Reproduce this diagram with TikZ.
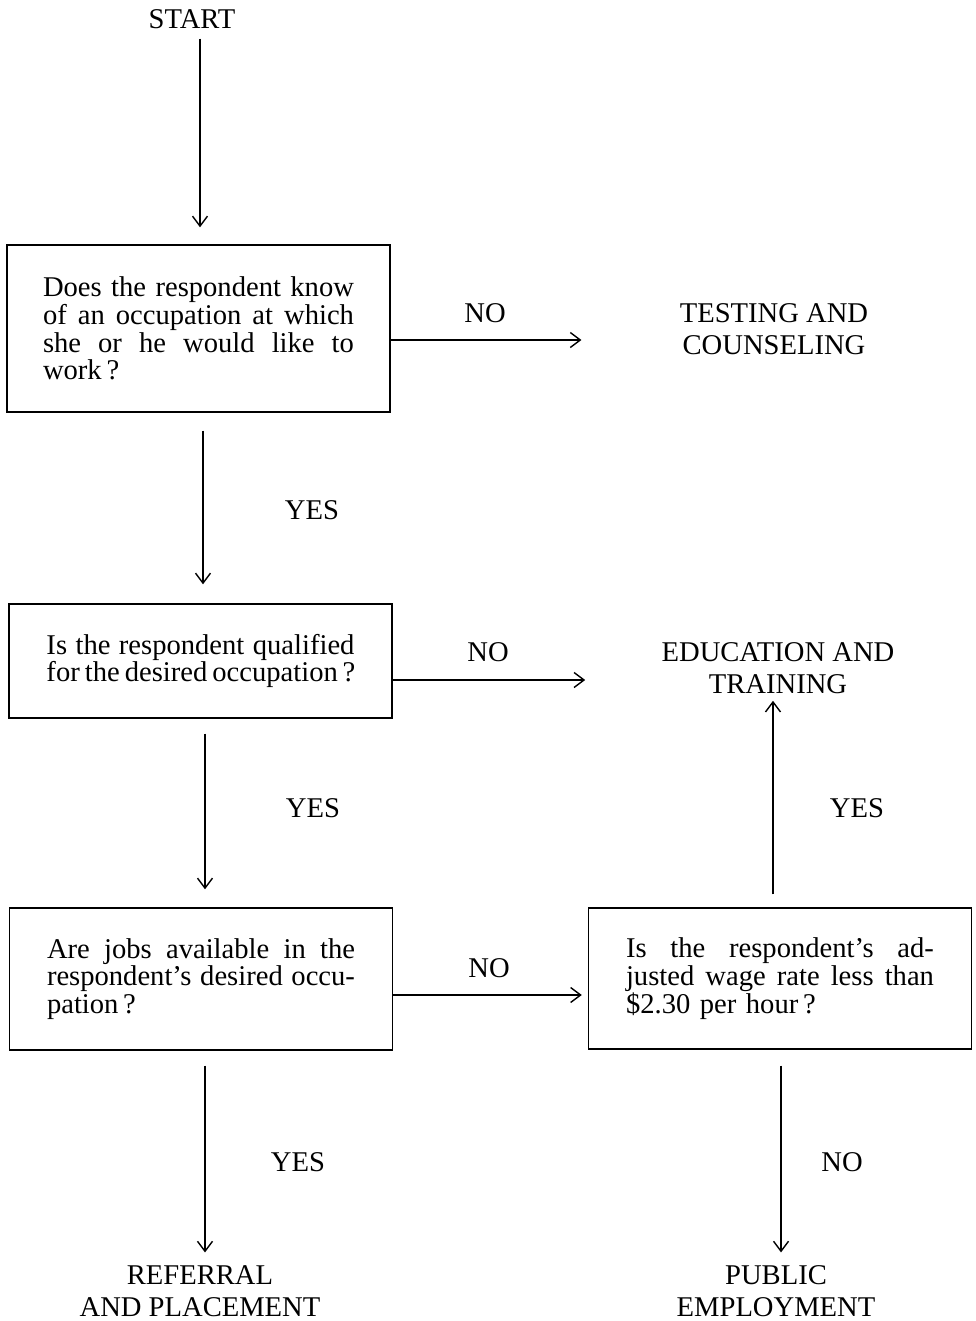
\documentclass[tikz,border=0pt]{standalone}
\usepackage{fontspec}
\setmainfont{Liberation Serif}
\usetikzlibrary{arrows.meta}
\newcommand\fl[2][154pt]{\leavevmode{\spaceskip=\fontdimen2\font plus 1fil minus 0.3\fontdimen2\font\relax\hbox to #1{#2}}}
\begin{document}
\begin{tikzpicture}[x=0.5pt,y=-0.5pt,
  every node/.style={font=\fontsize{14.3}{16}\selectfont, inner sep=0pt},
  qbox/.style={draw, line width=0.7pt, minimum width=191.5pt, align=left,
    font=\fontsize{14.3}{13.9}\selectfont},
  arr/.style={-{Straight Barb[length=5pt,width=7.5pt]}, line width=0.7pt},
  lbl/.style={align=center}]
\useasboundingbox (0,0) rectangle (975,1321);

% question boxes
\node[qbox, minimum height=83.5pt, text width=155.5pt] (q1) at (198.5,328.5)
  {\fl[155.5pt]{Does the respondent know}\\ \fl[155.5pt]{of an occupation at which}\\ \fl[155.5pt]{she or he would like to}\\ work\,?};
\node[qbox, minimum height=57pt, text width=154pt] (q2) at (200.5,661)
  {\fl{Is the respondent qualified}\\ \fl{for the desired occupation\,?}};
\node[qbox, minimum height=71pt, text width=154pt] (q3) at (201,979)
  {\fl{Are jobs available in the}\\ \fl{respondent's desired occu-}\\ pation\,?};
\node[qbox, minimum height=70.5pt, text width=154pt] (q4) at (780,978.5)
  {\fl{Is the respondent's ad-}\\ \fl{justed wage rate less than}\\ \$2.30 per hour\,?};

% outcome labels
\node (start) at (192,19) {START};
\node[lbl] (test) at (774,329) {TESTING AND\\COUNSELING};
\node[lbl] (edu) at (778,668) {EDUCATION AND\\TRAINING};
\node[lbl] (ref) at (200,1291) {REFERRAL\\AND PLACEMENT};
\node[lbl] (pub) at (776,1291) {PUBLIC\\EMPLOYMENT};

% answer labels
\node (no1) at (485,313) {NO};
\node (no2) at (488,652) {NO};
\node (no3) at (489,968) {NO};
\node (yes1) at (312,510) {YES};
\node (yes2) at (313,808) {YES};
\node (yes3) at (298,1162) {YES};
\node (yes4) at (857,808) {YES};
\node (no4) at (842,1162) {NO};

% connectors
\draw[arr, shorten <=4.8pt, shorten >=8.5pt] ([xshift=4pt]start.south) -- ([xshift=4pt]start.south |- q1.north);
\draw[arr, shorten <=9pt, shorten >=9.5pt] ([xshift=2.25pt]q1.south) -- ([xshift=2.25pt]q1.south |- q2.north);
\draw[arr, shorten <=7.5pt, shorten >=9pt] ([xshift=2.25pt]q2.south) -- ([xshift=2.25pt]q2.south |- q3.north);
\draw[arr, shorten <=7.5pt, shorten >=6.3pt] ([xshift=2pt]q3.south) -- ([xshift=2pt]q3.south |- ref.north);
\draw[arr, shorten <=8pt, shorten >=6.3pt] ([xshift=0.5pt]q4.south) -- ([xshift=0.5pt]q4.south |- pub.north);
\draw[arr, shorten <=6.5pt, shorten >=3.4pt] ([xshift=-3.5pt]q4.north) -- ([xshift=-3.5pt]q4.north |- edu.south);
\draw[arr, shorten >=49pt] ([yshift=-5.75pt]q1.east) -- ([yshift=-5.75pt]q1.east -| test.west);
\draw[arr, shorten >=38pt] ([yshift=-9.5pt]q2.east) -- ([yshift=-9.5pt]q2.east -| edu.west);
\draw[arr, shorten >=3pt] ([yshift=-8pt]q3.east) -- ([yshift=-8pt]q3.east -| q4.west);
\end{tikzpicture}
\end{document}
